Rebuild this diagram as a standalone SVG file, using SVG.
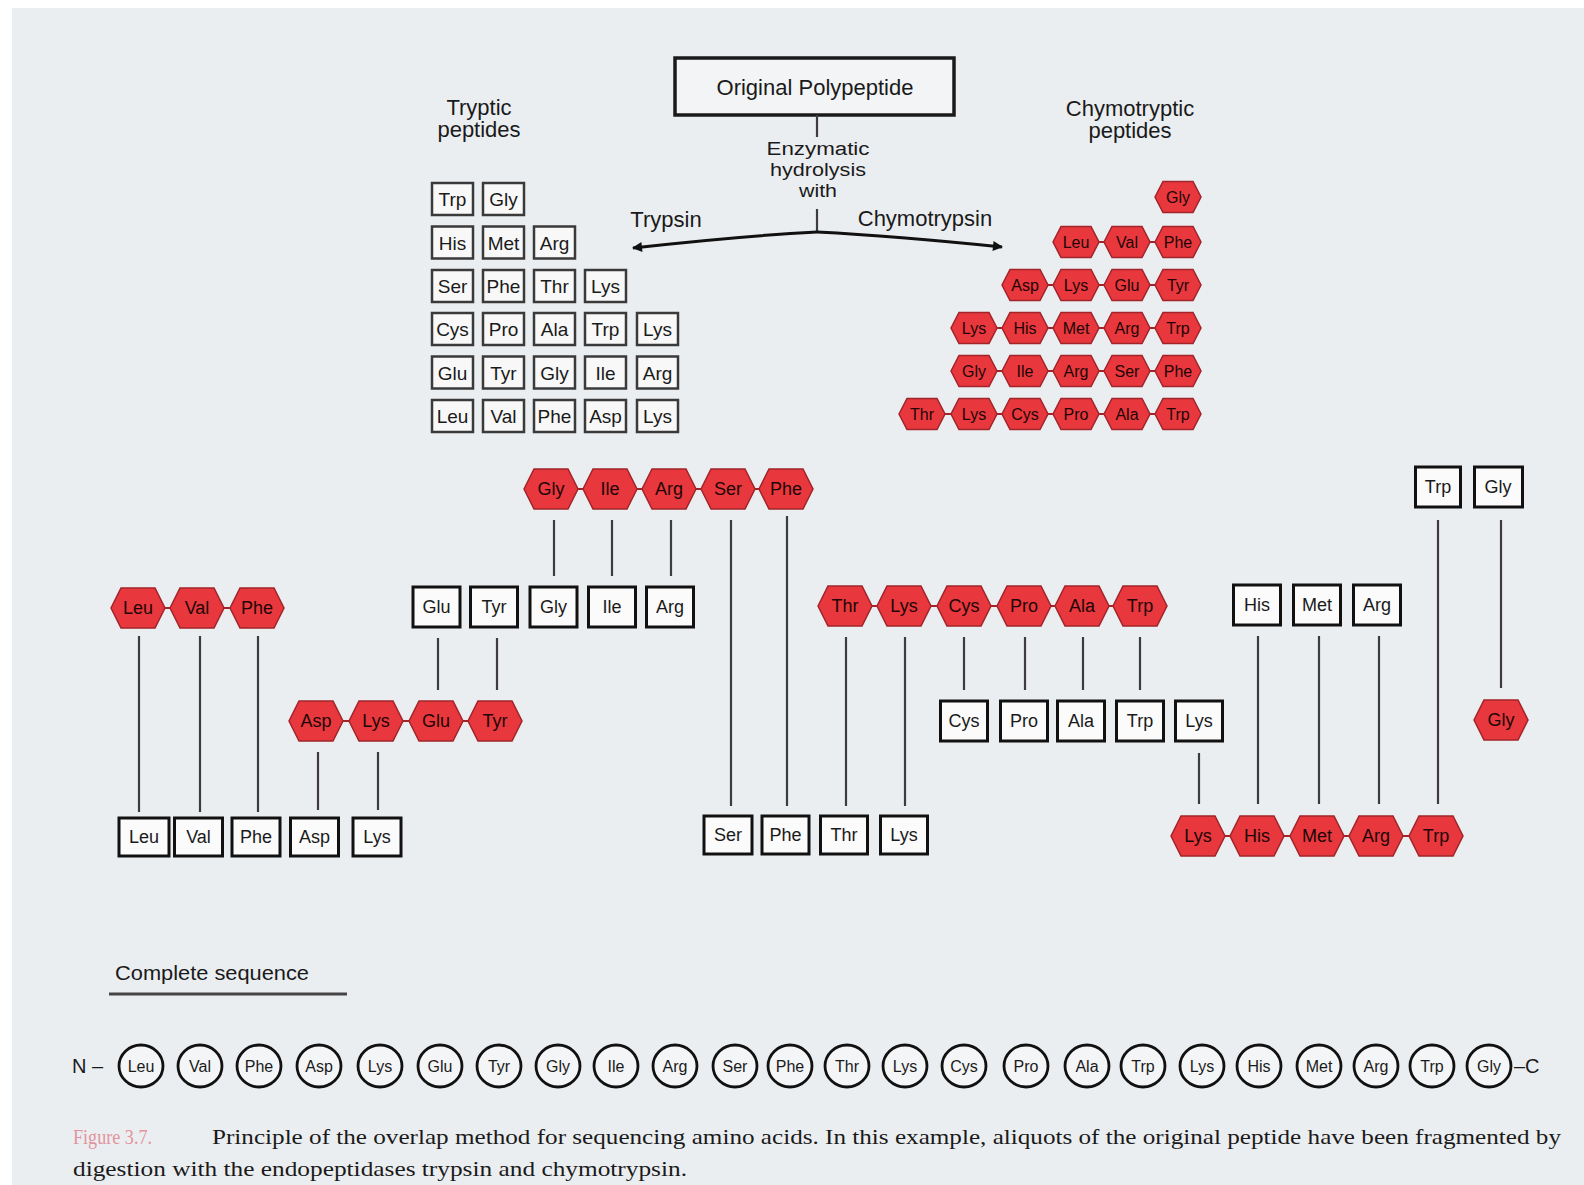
<svg xmlns="http://www.w3.org/2000/svg" xmlns:xlink="http://www.w3.org/1999/xlink" width="1584" height="1185" viewBox="0 0 1584 1185">
<style>
.t{font-family:"Liberation Sans",Arial,sans-serif;text-anchor:middle;fill:#1a1a1a}
.lab{font-size:22px}
.tb{fill:#f8f8f8;stroke:#3a3a3a;stroke-width:2.5}
.bx{fill:#fbfbfb;stroke:#111;stroke-width:3}
.hx{fill:#e8383e;stroke:#a0242a;stroke-width:1.5}
.ht{font-family:"Liberation Sans",Arial,sans-serif;text-anchor:middle;fill:#220505}
.ht text{fill:#220505}
.ln{stroke:#3c3c3c;stroke-width:2.2;fill:none}
.ch{stroke:#a0242a;stroke-width:2}
.ci{fill:#f4f5f6;stroke:#111;stroke-width:2.8}
.cap{font-family:"Liberation Serif","Times New Roman",serif;font-size:21px;fill:#1a1a1a}
</style>
<defs>
<polygon id="hb" points="-27,0 -17,-20 17,-20 27,0 17,20 -17,20"/>
<polygon id="hs" points="-23,0 -15,-15.5 15,-15.5 23,0 15,15.5 -15,15.5"/>
<marker id="ah" viewBox="0 0 10 10" refX="9" refY="5" markerWidth="12" markerHeight="10" markerUnits="userSpaceOnUse" orient="auto">
<path d="M0,0 L10,5 L0,10 Z" fill="#111"/>
</marker>
</defs>
<rect x="0" y="0" width="1584" height="1185" fill="#ffffff"/>
<rect x="12" y="8" width="1572" height="1177" fill="#ebeef1"/>

<!-- title -->
<g id="title">
<rect x="675" y="58" width="279" height="57" fill="#f3f4f5" stroke="#1a1a1a" stroke-width="3.5"/>
<text class="t lab" x="815" y="95">Original Polypeptide</text>
</g>
<g id="enzyme-label" class="t" font-size="18">
<text x="818" y="155" textLength="103" lengthAdjust="spacingAndGlyphs">Enzymatic</text>
<text x="818" y="176" textLength="96" lengthAdjust="spacingAndGlyphs">hydrolysis</text>
<text x="818" y="197" textLength="38" lengthAdjust="spacingAndGlyphs">with</text>
</g>
<g id="trypsin-label"><text class="t lab" x="666" y="227">Trypsin</text></g>
<g id="chymotrypsin-label"><text class="t lab" x="925" y="226">Chymotrypsin</text></g>
<g id="tryptic-title">
<text class="t lab" x="479" y="115">Tryptic</text>
<text class="t lab" x="479" y="137">peptides</text>
</g>
<g id="chymo-title">
<text class="t lab" x="1130" y="116">Chymotryptic</text>
<text class="t lab" x="1130" y="138">peptides</text>
</g>

<!-- connectors -->
<g id="connectors">
<line class="ln" x1="817" y1="115" x2="817" y2="137" stroke="#111" stroke-width="2.5"/>
<line class="ln" x1="817" y1="209" x2="817" y2="232" stroke="#111" stroke-width="2.5"/>
<path d="M817,232 Q740,236 633,248" fill="none" stroke="#111" stroke-width="3" marker-end="url(#ah)"/>
<path d="M817,232 Q895,236 1002,247" fill="none" stroke="#111" stroke-width="3" marker-end="url(#ah)"/>
<g class="ch">
<line x1="1099" y1="242" x2="1104" y2="242"/><line x1="1150" y1="242" x2="1155" y2="242"/>
<line x1="1048" y1="285" x2="1053" y2="285"/><line x1="1099" y1="285" x2="1104" y2="285"/><line x1="1150" y1="285" x2="1155" y2="285"/>
<line x1="997" y1="328" x2="1002" y2="328"/><line x1="1048" y1="328" x2="1053" y2="328"/><line x1="1099" y1="328" x2="1104" y2="328"/><line x1="1150" y1="328" x2="1155" y2="328"/>
<line x1="997" y1="371" x2="1002" y2="371"/><line x1="1048" y1="371" x2="1053" y2="371"/><line x1="1099" y1="371" x2="1104" y2="371"/><line x1="1150" y1="371" x2="1155" y2="371"/>
<line x1="945" y1="414" x2="951" y2="414"/><line x1="997" y1="414" x2="1002" y2="414"/><line x1="1048" y1="414" x2="1053" y2="414"/><line x1="1099" y1="414" x2="1104" y2="414"/><line x1="1150" y1="414" x2="1155" y2="414"/>
<line x1="578" y1="489" x2="583" y2="489"/><line x1="637" y1="489" x2="642" y2="489"/><line x1="696" y1="489" x2="701" y2="489"/><line x1="755" y1="489" x2="759" y2="489"/>
<line x1="165" y1="608" x2="170" y2="608"/><line x1="224" y1="608" x2="230" y2="608"/>
<line x1="343" y1="721" x2="349" y2="721"/><line x1="403" y1="721" x2="409" y2="721"/><line x1="463" y1="721" x2="468" y2="721"/>
<line x1="872" y1="606" x2="877" y2="606"/><line x1="931" y1="606" x2="937" y2="606"/><line x1="991" y1="606" x2="997" y2="606"/><line x1="1051" y1="606" x2="1055" y2="606"/><line x1="1109" y1="606" x2="1113" y2="606"/>
<line x1="1225" y1="836" x2="1230" y2="836"/><line x1="1284" y1="836" x2="1290" y2="836"/><line x1="1344" y1="836" x2="1349" y2="836"/><line x1="1403" y1="836" x2="1409" y2="836"/>
</g>
<line class="ln" x1="139" y1="636" x2="139" y2="812"/>
<line class="ln" x1="200" y1="636" x2="200" y2="812"/>
<line class="ln" x1="258" y1="636" x2="258" y2="812"/>
<line class="ln" x1="318" y1="752" x2="318" y2="810"/>
<line class="ln" x1="378" y1="752" x2="378" y2="810"/>
<line class="ln" x1="438" y1="638" x2="438" y2="690"/>
<line class="ln" x1="497" y1="638" x2="497" y2="690"/>
<line class="ln" x1="554" y1="520" x2="554" y2="576"/>
<line class="ln" x1="612" y1="520" x2="612" y2="576"/>
<line class="ln" x1="671" y1="520" x2="671" y2="576"/>
<line class="ln" x1="731" y1="520" x2="731" y2="806"/>
<line class="ln" x1="787" y1="516" x2="787" y2="806"/>
<line class="ln" x1="846" y1="637" x2="846" y2="806"/>
<line class="ln" x1="905" y1="637" x2="905" y2="806"/>
<line class="ln" x1="964" y1="637" x2="964" y2="690"/>
<line class="ln" x1="1025" y1="637" x2="1025" y2="690"/>
<line class="ln" x1="1083" y1="637" x2="1083" y2="690"/>
<line class="ln" x1="1140" y1="637" x2="1140" y2="690"/>
<line class="ln" x1="1199" y1="753" x2="1199" y2="804"/>
<line class="ln" x1="1258" y1="636" x2="1258" y2="804"/>
<line class="ln" x1="1319" y1="636" x2="1319" y2="804"/>
<line class="ln" x1="1379" y1="636" x2="1379" y2="804"/>
<line class="ln" x1="1438" y1="520" x2="1438" y2="804"/>
<line class="ln" x1="1501" y1="520" x2="1501" y2="688"/>
</g>

<!-- tryptic peptides grid -->
<g id="tryptic" class="t" font-size="19">
<g id="tr1"><rect class="tb" x="432" y="183" width="41" height="32"/><text x="452.5" y="206">Trp</text>
<rect class="tb" x="483" y="183" width="41" height="32"/><text x="503.5" y="206">Gly</text></g>
<g id="tr2"><rect class="tb" x="432" y="226.5" width="41" height="32"/><text x="452.5" y="249.5">His</text>
<rect class="tb" x="483" y="226.5" width="41" height="32"/><text x="503.5" y="249.5">Met</text>
<rect class="tb" x="534" y="226.5" width="41" height="32"/><text x="554.5" y="249.5">Arg</text></g>
<g id="tr3"><rect class="tb" x="432" y="270" width="41" height="32"/><text x="452.5" y="293">Ser</text>
<rect class="tb" x="483" y="270" width="41" height="32"/><text x="503.5" y="293">Phe</text>
<rect class="tb" x="534" y="270" width="41" height="32"/><text x="554.5" y="293">Thr</text>
<rect class="tb" x="585" y="270" width="41" height="32"/><text x="605.5" y="293">Lys</text></g>
<g id="tr4"><rect class="tb" x="432" y="313" width="41" height="32"/><text x="452.5" y="336">Cys</text>
<rect class="tb" x="483" y="313" width="41" height="32"/><text x="503.5" y="336">Pro</text>
<rect class="tb" x="534" y="313" width="41" height="32"/><text x="554.5" y="336">Ala</text>
<rect class="tb" x="585" y="313" width="41" height="32"/><text x="605.5" y="336">Trp</text>
<rect class="tb" x="637" y="313" width="41" height="32"/><text x="657.5" y="336">Lys</text></g>
<g id="tr5"><rect class="tb" x="432" y="356.5" width="41" height="32"/><text x="452.5" y="379.5">Glu</text>
<rect class="tb" x="483" y="356.5" width="41" height="32"/><text x="503.5" y="379.5">Tyr</text>
<rect class="tb" x="534" y="356.5" width="41" height="32"/><text x="554.5" y="379.5">Gly</text>
<rect class="tb" x="585" y="356.5" width="41" height="32"/><text x="605.5" y="379.5">Ile</text>
<rect class="tb" x="637" y="356.5" width="41" height="32"/><text x="657.5" y="379.5">Arg</text></g>
<g id="tr6"><rect class="tb" x="432" y="400" width="41" height="32"/><text x="452.5" y="423">Leu</text>
<rect class="tb" x="483" y="400" width="41" height="32"/><text x="503.5" y="423">Val</text>
<rect class="tb" x="534" y="400" width="41" height="32"/><text x="554.5" y="423">Phe</text>
<rect class="tb" x="585" y="400" width="41" height="32"/><text x="605.5" y="423">Asp</text>
<rect class="tb" x="637" y="400" width="41" height="32"/><text x="657.5" y="423">Lys</text></g>
</g>

<!-- chymotryptic peptides -->
<g id="chymotryptic" class="ht" font-size="16">
<g id="ch1"><use href="#hs" class="hx" x="1178" y="197"/><text x="1178" y="203">Gly</text></g>
<g id="ch2"><use href="#hs" class="hx" x="1076" y="242"/><text x="1076" y="248">Leu</text>
<use href="#hs" class="hx" x="1127" y="242"/><text x="1127" y="248">Val</text>
<use href="#hs" class="hx" x="1178" y="242"/><text x="1178" y="248">Phe</text></g>
<g id="ch3"><use href="#hs" class="hx" x="1025" y="285"/><text x="1025" y="291">Asp</text>
<use href="#hs" class="hx" x="1076" y="285"/><text x="1076" y="291">Lys</text>
<use href="#hs" class="hx" x="1127" y="285"/><text x="1127" y="291">Glu</text>
<use href="#hs" class="hx" x="1178" y="285"/><text x="1178" y="291">Tyr</text></g>
<g id="ch4"><use href="#hs" class="hx" x="974" y="328"/><text x="974" y="334">Lys</text>
<use href="#hs" class="hx" x="1025" y="328"/><text x="1025" y="334">His</text>
<use href="#hs" class="hx" x="1076" y="328"/><text x="1076" y="334">Met</text>
<use href="#hs" class="hx" x="1127" y="328"/><text x="1127" y="334">Arg</text>
<use href="#hs" class="hx" x="1178" y="328"/><text x="1178" y="334">Trp</text></g>
<g id="ch5"><use href="#hs" class="hx" x="974" y="371"/><text x="974" y="377">Gly</text>
<use href="#hs" class="hx" x="1025" y="371"/><text x="1025" y="377">Ile</text>
<use href="#hs" class="hx" x="1076" y="371"/><text x="1076" y="377">Arg</text>
<use href="#hs" class="hx" x="1127" y="371"/><text x="1127" y="377">Ser</text>
<use href="#hs" class="hx" x="1178" y="371"/><text x="1178" y="377">Phe</text></g>
<g id="ch6"><use href="#hs" class="hx" x="922" y="414"/><text x="922" y="420">Thr</text>
<use href="#hs" class="hx" x="974" y="414"/><text x="974" y="420">Lys</text>
<use href="#hs" class="hx" x="1025" y="414"/><text x="1025" y="420">Cys</text>
<use href="#hs" class="hx" x="1076" y="414"/><text x="1076" y="420">Pro</text>
<use href="#hs" class="hx" x="1127" y="414"/><text x="1127" y="420">Ala</text>
<use href="#hs" class="hx" x="1178" y="414"/><text x="1178" y="420">Trp</text></g>
</g>

<!-- overlap alignment: chymotryptic hexagons -->
<g class="ht" font-size="18">
<g id="hA"><use href="#hb" class="hx" x="551" y="489"/><text x="551" y="495">Gly</text>
<use href="#hb" class="hx" x="610" y="489"/><text x="610" y="495">Ile</text>
<use href="#hb" class="hx" x="669" y="489"/><text x="669" y="495">Arg</text>
<use href="#hb" class="hx" x="728" y="489"/><text x="728" y="495">Ser</text>
<use href="#hb" class="hx" x="786" y="489"/><text x="786" y="495">Phe</text></g>
<g id="hB"><use href="#hb" class="hx" x="138" y="608"/><text x="138" y="614">Leu</text>
<use href="#hb" class="hx" x="197" y="608"/><text x="197" y="614">Val</text>
<use href="#hb" class="hx" x="257" y="608"/><text x="257" y="614">Phe</text></g>
<g id="hC"><use href="#hb" class="hx" x="316" y="721"/><text x="316" y="727">Asp</text>
<use href="#hb" class="hx" x="376" y="721"/><text x="376" y="727">Lys</text>
<use href="#hb" class="hx" x="436" y="721"/><text x="436" y="727">Glu</text>
<use href="#hb" class="hx" x="495" y="721"/><text x="495" y="727">Tyr</text></g>
<g id="hD"><use href="#hb" class="hx" x="845" y="606"/><text x="845" y="612">Thr</text>
<use href="#hb" class="hx" x="904" y="606"/><text x="904" y="612">Lys</text>
<use href="#hb" class="hx" x="964" y="606"/><text x="964" y="612">Cys</text>
<use href="#hb" class="hx" x="1024" y="606"/><text x="1024" y="612">Pro</text>
<use href="#hb" class="hx" x="1082" y="606"/><text x="1082" y="612">Ala</text>
<use href="#hb" class="hx" x="1140" y="606"/><text x="1140" y="612">Trp</text></g>
<g id="hE"><use href="#hb" class="hx" x="1198" y="836"/><text x="1198" y="842">Lys</text>
<use href="#hb" class="hx" x="1257" y="836"/><text x="1257" y="842">His</text>
<use href="#hb" class="hx" x="1317" y="836"/><text x="1317" y="842">Met</text>
<use href="#hb" class="hx" x="1376" y="836"/><text x="1376" y="842">Arg</text>
<use href="#hb" class="hx" x="1436" y="836"/><text x="1436" y="842">Trp</text></g>
<g id="hF"><use href="#hb" class="hx" x="1501" y="720"/><text x="1501" y="726">Gly</text></g>
</g>

<!-- overlap alignment: tryptic boxes -->
<g class="t" font-size="18">
<g id="bA"><rect class="bx" x="413" y="587" width="47" height="40"/><text x="436.5" y="613">Glu</text>
<rect class="bx" x="470.5" y="587" width="47" height="40"/><text x="494" y="613">Tyr</text>
<rect class="bx" x="530" y="587" width="47" height="40"/><text x="553.5" y="613">Gly</text>
<rect class="bx" x="588.5" y="587" width="47" height="40"/><text x="612" y="613">Ile</text>
<rect class="bx" x="646.5" y="587" width="47" height="40"/><text x="670" y="613">Arg</text></g>
<g id="bB"><rect class="bx" x="940.5" y="701" width="47" height="40"/><text x="964" y="727">Cys</text>
<rect class="bx" x="1000.5" y="701" width="47" height="40"/><text x="1024" y="727">Pro</text>
<rect class="bx" x="1057.5" y="701" width="47" height="40"/><text x="1081" y="727">Ala</text>
<rect class="bx" x="1116.5" y="701" width="47" height="40"/><text x="1140" y="727">Trp</text>
<rect class="bx" x="1175.5" y="701" width="47" height="40"/><text x="1199" y="727">Lys</text></g>
<g id="bC"><rect class="bx" x="1233.5" y="585" width="47" height="40"/><text x="1257" y="611">His</text>
<rect class="bx" x="1293.5" y="585" width="47" height="40"/><text x="1317" y="611">Met</text>
<rect class="bx" x="1353.5" y="585" width="47" height="40"/><text x="1377" y="611">Arg</text></g>
<g id="bD"><rect class="bx" x="1415.5" y="467" width="45" height="40"/><text x="1438" y="493">Trp</text>
<rect class="bx" x="1474.5" y="467" width="48" height="40"/><text x="1498" y="493">Gly</text></g>
<g id="bE"><rect class="bx" x="119" y="818" width="50" height="38"/><text x="144" y="843">Leu</text>
<rect class="bx" x="174.5" y="818" width="48" height="38"/><text x="198.5" y="843">Val</text>
<rect class="bx" x="232" y="818" width="48" height="38"/><text x="256" y="843">Phe</text>
<rect class="bx" x="290.5" y="818" width="48" height="38"/><text x="314.5" y="843">Asp</text>
<rect class="bx" x="353" y="818" width="48" height="38"/><text x="377" y="843">Lys</text></g>
<g id="bF"><rect class="bx" x="704" y="816" width="48" height="38"/><text x="728" y="841">Ser</text>
<rect class="bx" x="762" y="816" width="47" height="38"/><text x="785.5" y="841">Phe</text>
<rect class="bx" x="820.5" y="816" width="47" height="38"/><text x="844" y="841">Thr</text>
<rect class="bx" x="880.5" y="816" width="47" height="38"/><text x="904" y="841">Lys</text></g>
</g>

<!-- complete sequence -->
<g id="complete-label">
<text x="115" y="980" font-family="'Liberation Sans',Arial,sans-serif" font-size="20" fill="#1a1a1a" textLength="194" lengthAdjust="spacingAndGlyphs">Complete sequence</text>
<line x1="109" y1="994" x2="347" y2="994" stroke="#444" stroke-width="3"/>
</g>
<g id="sequence" class="t" font-size="16">
<text x="72" y="1073" text-anchor="start" font-size="20">N –</text>
<g id="s1"><ellipse class="ci" cx="141" cy="1066" rx="22" ry="21"/><text x="141" y="1072">Leu</text></g>
<g id="s2"><ellipse class="ci" cx="200" cy="1066" rx="22" ry="21"/><text x="200" y="1072">Val</text></g>
<g id="s3"><ellipse class="ci" cx="259" cy="1066" rx="22" ry="21"/><text x="259" y="1072">Phe</text></g>
<g id="s4"><ellipse class="ci" cx="319" cy="1066" rx="22" ry="21"/><text x="319" y="1072">Asp</text></g>
<g id="s5"><ellipse class="ci" cx="380" cy="1066" rx="22" ry="21"/><text x="380" y="1072">Lys</text></g>
<g id="s6"><ellipse class="ci" cx="440" cy="1066" rx="22" ry="21"/><text x="440" y="1072">Glu</text></g>
<g id="s7"><ellipse class="ci" cx="499" cy="1066" rx="22" ry="21"/><text x="499" y="1072">Tyr</text></g>
<g id="s8"><ellipse class="ci" cx="558" cy="1066" rx="22" ry="21"/><text x="558" y="1072">Gly</text></g>
<g id="s9"><ellipse class="ci" cx="616" cy="1066" rx="22" ry="21"/><text x="616" y="1072">Ile</text></g>
<g id="s10"><ellipse class="ci" cx="675" cy="1066" rx="22" ry="21"/><text x="675" y="1072">Arg</text></g>
<g id="s11"><ellipse class="ci" cx="735" cy="1066" rx="22" ry="21"/><text x="735" y="1072">Ser</text></g>
<g id="s12"><ellipse class="ci" cx="790" cy="1066" rx="22" ry="21"/><text x="790" y="1072">Phe</text></g>
<g id="s13"><ellipse class="ci" cx="847" cy="1066" rx="22" ry="21"/><text x="847" y="1072">Thr</text></g>
<g id="s14"><ellipse class="ci" cx="905" cy="1066" rx="22" ry="21"/><text x="905" y="1072">Lys</text></g>
<g id="s15"><ellipse class="ci" cx="964" cy="1066" rx="22" ry="21"/><text x="964" y="1072">Cys</text></g>
<g id="s16"><ellipse class="ci" cx="1026" cy="1066" rx="22" ry="21"/><text x="1026" y="1072">Pro</text></g>
<g id="s17"><ellipse class="ci" cx="1087" cy="1066" rx="22" ry="21"/><text x="1087" y="1072">Ala</text></g>
<g id="s18"><ellipse class="ci" cx="1143" cy="1066" rx="22" ry="21"/><text x="1143" y="1072">Trp</text></g>
<g id="s19"><ellipse class="ci" cx="1202" cy="1066" rx="22" ry="21"/><text x="1202" y="1072">Lys</text></g>
<g id="s20"><ellipse class="ci" cx="1259" cy="1066" rx="22" ry="21"/><text x="1259" y="1072">His</text></g>
<g id="s21"><ellipse class="ci" cx="1319" cy="1066" rx="22" ry="21"/><text x="1319" y="1072">Met</text></g>
<g id="s22"><ellipse class="ci" cx="1376" cy="1066" rx="22" ry="21"/><text x="1376" y="1072">Arg</text></g>
<g id="s23"><ellipse class="ci" cx="1432" cy="1066" rx="22" ry="21"/><text x="1432" y="1072">Trp</text></g>
<g id="s24"><ellipse class="ci" cx="1489" cy="1066" rx="22" ry="21"/><text x="1489" y="1072">Gly</text></g>
<text x="1514" y="1073" text-anchor="start" font-size="20">–C</text>
</g>

<!-- caption -->
<g id="caption">
<text class="cap" x="73" y="1144" style="fill:#e3939d" textLength="79" lengthAdjust="spacingAndGlyphs">Figure 3.7.</text>
<text class="cap" x="212" y="1144" textLength="1349" lengthAdjust="spacingAndGlyphs">Principle of the overlap method for sequencing amino acids. In this example, aliquots of the original peptide have been fragmented by</text>
<text class="cap" x="73" y="1176" textLength="614" lengthAdjust="spacingAndGlyphs">digestion with the endopeptidases trypsin and chymotrypsin.</text>
</g>
</svg>
